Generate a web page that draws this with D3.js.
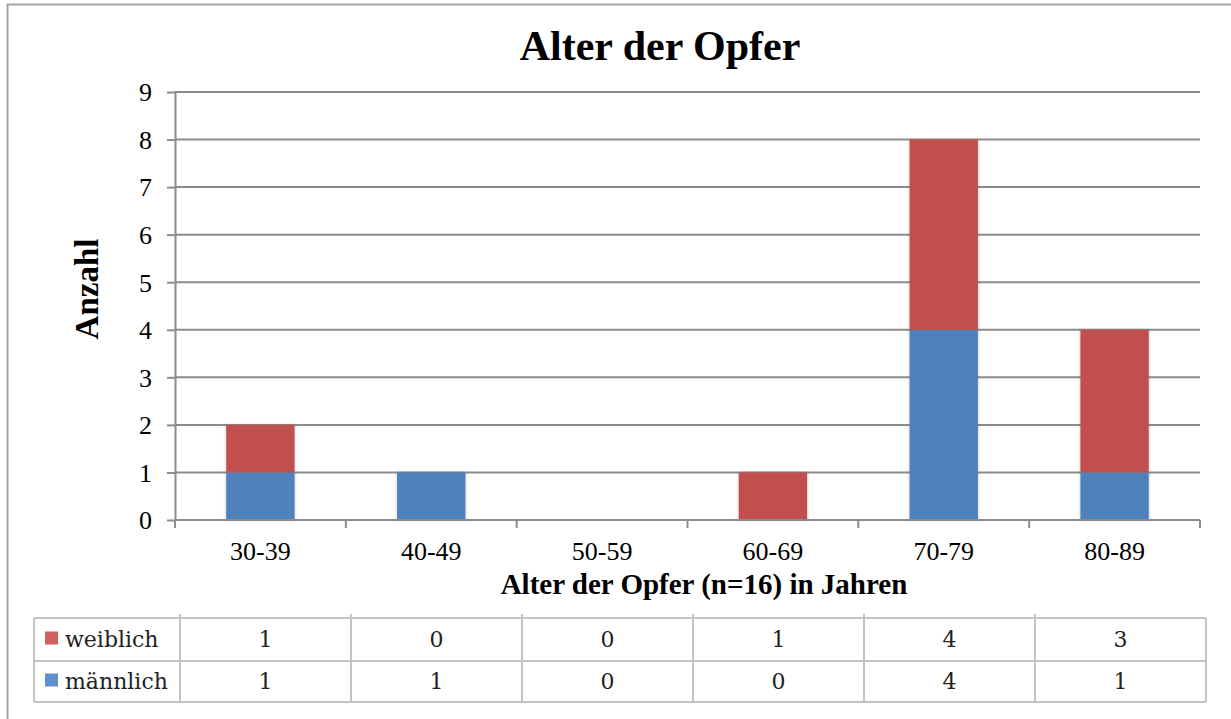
<!DOCTYPE html>
<html>
<head>
<meta charset="utf-8">
<script src="https://cdn.jsdelivr.net/npm/d3@7"></script>
<style>
  body { margin: 0; background: #fff; }
  svg { display: block; }
</style>
</head>
<body>
<svg width="1231" height="719"></svg>
<script>
var categories = ["30-39", "40-49", "50-59", "60-69", "70-79", "80-89"];
var maennlich = [1, 1, 0, 0, 4, 1];
var weiblich = [1, 0, 0, 1, 4, 3];
var seriesNames = ["weiblich", "männlich"];
var yTicks = [0, 1, 2, 3, 4, 5, 6, 7, 8, 9];

var svg = d3.select("svg"),
    plot = {left: 175, right: 1200, top: 92, bottom: 520},
    serif = "'Liberation Serif', 'Times New Roman', serif",
    red = "#C0504D",
    blue = "#4F81BD",
    grid = "#8c8c8c";

// outer frame (cut off at right/bottom like the screenshot)
svg.append("path")
    .attr("d", "M7.5,719 L7.5,4.5 L1231,4.5")
    .attr("fill", "none")
    .attr("stroke", "#a6a6a6")
    .attr("stroke-width", 2);

var defs = svg.append("defs");
var f = defs.append("filter").attr("id", "shadow")
    .attr("x", "-20%").attr("y", "-20%").attr("width", "140%").attr("height", "140%");
f.append("feDropShadow").attr("dx", 0).attr("dy", 0).attr("stdDeviation", 1.5)
    .attr("flood-color", "#000").attr("flood-opacity", 0.25);

var x = d3.scaleBand()
    .domain(categories)
    .range([plot.left, plot.right])
    .paddingInner(0.6)
    .paddingOuter(0.3);

var xb = d3.scaleLinear()
    .domain([0, categories.length])
    .range([plot.left, plot.right]);

var y = d3.scaleLinear()
    .domain([0, 9])
    .range([plot.bottom, plot.top]);

// gridlines
svg.append("g")
  .selectAll("line")
  .data(yTicks.slice(1))
  .enter().append("line")
    .attr("x1", plot.left)
    .attr("x2", plot.right)
    .attr("y1", function(d) { return y(d); })
    .attr("y2", function(d) { return y(d); })
    .attr("stroke", grid)
    .attr("stroke-width", 2);

// y axis
var yAxis = svg.append("g")
    .attr("transform", "translate(" + plot.left + ",0)")
    .call(d3.axisLeft(y).tickValues(yTicks).tickSize(8).tickPadding(15).tickSizeOuter(0));
yAxis.select(".domain").attr("stroke", grid).attr("stroke-width", 2);
yAxis.selectAll(".tick line").attr("stroke", grid).attr("stroke-width", 2);
yAxis.selectAll("text")
    .attr("font-family", serif)
    .attr("font-size", "26px")
    .attr("fill", "#000")
    .attr("dy", "0.34em");

// stacked bars
var stackData = categories.map(function(c, i) {
  return {cat: c, m: maennlich[i], w: weiblich[i]};
});

var bars = svg.append("g").attr("filter", "url(#shadow)");
bars.selectAll("rect.m")
  .data(stackData.filter(function(d) { return d.m > 0; }))
  .enter().append("rect")
    .attr("class", "m")
    .attr("x", function(d) { return x(d.cat); })
    .attr("width", x.bandwidth())
    .attr("y", function(d) { return y(d.m); })
    .attr("height", function(d) { return y(0) - y(d.m); })
    .attr("fill", blue);
bars.selectAll("rect.w")
  .data(stackData.filter(function(d) { return d.w > 0; }))
  .enter().append("rect")
    .attr("class", "w")
    .attr("x", function(d) { return x(d.cat); })
    .attr("width", x.bandwidth())
    .attr("y", function(d) { return y(d.m + d.w); })
    .attr("height", function(d) { return y(d.m) - y(d.m + d.w); })
    .attr("fill", red);

// x axis
svg.append("line")
    .attr("x1", plot.left).attr("x2", plot.right)
    .attr("y1", plot.bottom).attr("y2", plot.bottom)
    .attr("stroke", grid).attr("stroke-width", 2);
svg.append("g")
  .selectAll("line")
  .data(d3.range(categories.length + 1))
  .enter().append("line")
    .attr("x1", function(d) { return xb(d); })
    .attr("x2", function(d) { return xb(d); })
    .attr("y1", plot.bottom)
    .attr("y2", plot.bottom + 8)
    .attr("stroke", grid)
    .attr("stroke-width", 2);
svg.append("g")
  .selectAll("text")
  .data(categories)
  .enter().append("text")
    .attr("x", function(d) { return x(d) + x.bandwidth() / 2; })
    .attr("y", 560)
    .attr("text-anchor", "middle")
    .attr("font-family", serif)
    .attr("font-size", "26px")
    .text(function(d) { return d; });

// titles
svg.append("text")
    .attr("x", 660).attr("y", 60)
    .attr("text-anchor", "middle")
    .attr("font-family", serif)
    .attr("font-weight", "bold")
    .attr("font-size", "42px")
    .text("Alter der Opfer");

svg.append("text")
    .attr("x", 704).attr("y", 594)
    .attr("text-anchor", "middle")
    .attr("font-family", serif)
    .attr("font-weight", "bold")
    .attr("font-size", "29px")
    .text("Alter der Opfer (n=16) in Jahren");

svg.append("text")
    .attr("transform", "translate(98,289) rotate(-90)")
    .attr("text-anchor", "middle")
    .attr("font-family", serif)
    .attr("font-weight", "bold")
    .attr("font-size", "33px")
    .text("Anzahl");

// data table
var table = {left: 34, first: 180, right: 1206, top: 618, mid: 661, bottom: 702};
var tx = d3.scaleLinear().domain([0, categories.length]).range([table.first, table.right]);
var rows = [
  {name: seriesNames[0], values: weiblich, color: "#d0625e"},
  {name: seriesNames[1], values: maennlich, color: "#5f91cc"}
];
var rowY = [table.top, table.mid, table.bottom];
var tableFont = "'DejaVu Serif', serif";
var border = "#c4c4c4";

var tg = svg.append("g");
tg.selectAll("line.h")
  .data(rowY)
  .enter().append("line")
    .attr("x1", table.left).attr("x2", table.right)
    .attr("y1", function(d) { return d; }).attr("y2", function(d) { return d; })
    .attr("stroke", border).attr("stroke-width", 2);
tg.selectAll("line.v")
  .data([table.left].concat(d3.range(categories.length + 1).map(function(i) { return tx(i); })))
  .enter().append("line")
    .attr("x1", function(d) { return d; }).attr("x2", function(d) { return d; })
    .attr("y1", function(d, i) { return (i > 0 && i < categories.length + 1) ? table.top - 4 : table.top; })
    .attr("y2", table.bottom)
    .attr("stroke", border).attr("stroke-width", 2);

rows.forEach(function(r, ri) {
  var cy = (rowY[ri] + rowY[ri + 1]) / 2;
  tg.append("rect")
      .attr("x", 45).attr("y", cy - 8)
      .attr("width", 13).attr("height", 13)
      .attr("fill", r.color);
  tg.append("text")
      .attr("x", 65).attr("y", cy + 7)
      .attr("font-family", tableFont)
      .attr("font-size", "22px")
      .attr("fill", "#222")
      .text(r.name);
  tg.selectAll("text.v" + ri)
    .data(r.values)
    .enter().append("text")
      .attr("x", function(d, i) { return (tx(i) + tx(i + 1)) / 2; })
      .attr("y", cy + 7)
      .attr("text-anchor", "middle")
      .attr("font-family", tableFont)
      .attr("font-size", "22px")
      .attr("fill", "#222")
      .text(function(d) { return d; });
});
</script>
</body>
</html>
